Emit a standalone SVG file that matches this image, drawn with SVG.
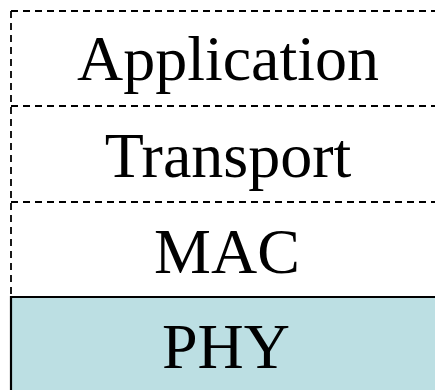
<svg xmlns="http://www.w3.org/2000/svg" width="435" height="390" viewBox="0 0 435 390">
<style>
.lbl{font-family:"Liberation Serif","Times New Roman",serif;font-size:64px;fill:#000;text-anchor:middle}
.dash{stroke:#000;stroke-width:1.8;stroke-dasharray:7 5;fill:none}
.solid{stroke:#000;stroke-width:2.2;fill:none}
</style>
<rect width="435" height="390" fill="#fff"/>
<g id="connectors">
<line class="dash" x1="11" y1="11" x2="435" y2="11"/>
<line class="dash" x1="11" y1="11" x2="11" y2="297"/>
<line class="dash" x1="11" y1="106" x2="435" y2="106"/>
<line class="dash" x1="11" y1="202" x2="435" y2="202"/>
</g>
<g id="application"><text class="lbl" x="228" y="80">Application</text></g>
<g id="transport"><text class="lbl" x="228" y="177">Transport</text></g>
<g id="mac"><text class="lbl" x="227" y="273">MAC</text></g>
<g id="phy">
<rect x="11" y="297" width="424" height="93" fill="#bcdfe3"/>
<line class="solid" x1="11" y1="297" x2="435" y2="297"/>
<line class="solid" x1="11" y1="296" x2="11" y2="390"/>
<text class="lbl" x="226" y="368">PHY</text>
</g>
</svg>
